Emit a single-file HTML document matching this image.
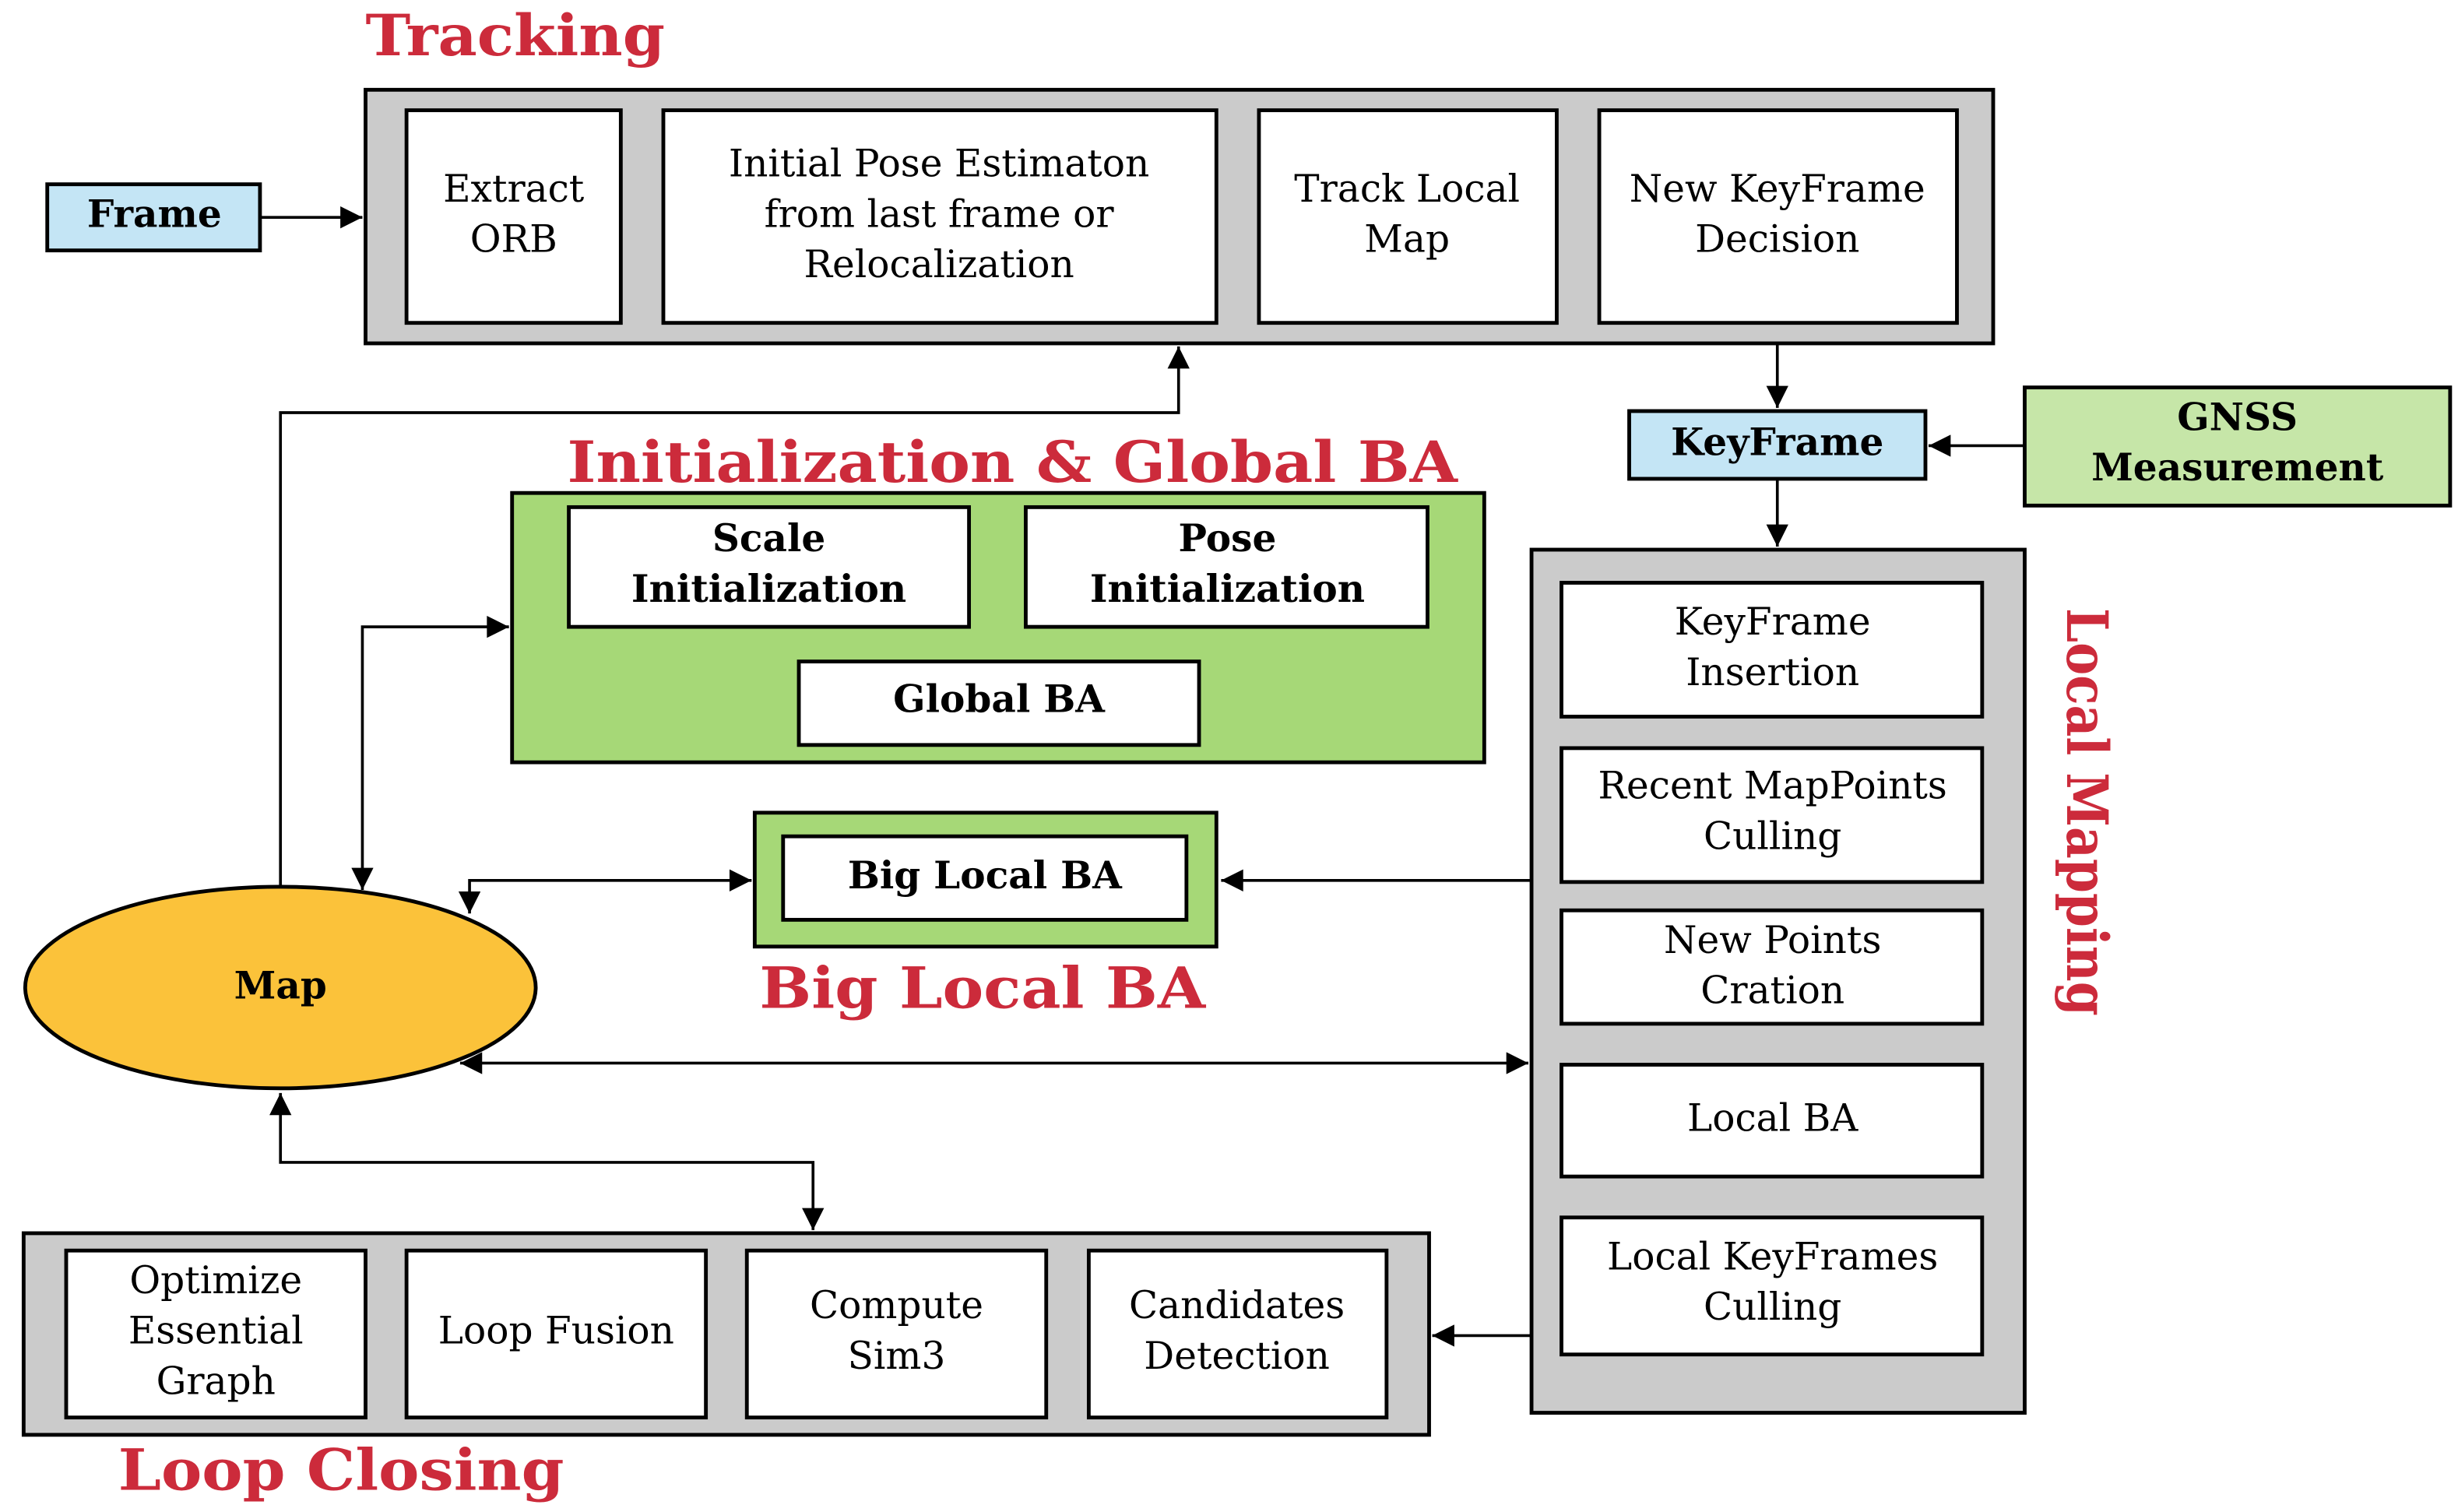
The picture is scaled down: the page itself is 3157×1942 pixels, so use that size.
<!DOCTYPE html>
<html><head><meta charset="utf-8"><style>html,body{margin:0;padding:0;background:#fff}svg{display:block}</style></head>
<body>
<svg width="3157" height="1942" viewBox="0 0 1560 960" preserveAspectRatio="none" xmlns="http://www.w3.org/2000/svg" font-family="'DejaVu Serif','Liberation Serif',serif">
<defs>
<marker id="a" viewBox="0 0 10 10" refX="10" refY="5" markerWidth="22" markerHeight="14" markerUnits="userSpaceOnUse" orient="auto-start-reverse"><path d="M0,0 L10,5 L0,10 z" fill="#000"/></marker>
</defs>
<g fill="none" stroke="#000" stroke-width="1.8">
<line x1="165" y1="138" x2="230" y2="138" marker-end="url(#a)"/>
<polyline points="178,563 178,262 748,262 748,220" marker-end="url(#a)"/>
<polyline points="230,565 230,398 323,398" marker-start="url(#a)" marker-end="url(#a)"/>
<polyline points="298,580 298,559 477,559" marker-start="url(#a)" marker-end="url(#a)"/>
<line x1="972" y1="559" x2="775" y2="559" marker-end="url(#a)"/>
<line x1="292" y1="675" x2="970" y2="675" marker-start="url(#a)" marker-end="url(#a)"/>
<polyline points="178,694 178,738 516,738 516,781" marker-start="url(#a)" marker-end="url(#a)"/>
<line x1="972" y1="848" x2="909" y2="848" marker-end="url(#a)"/>
<line x1="1128" y1="205" x2="1128" y2="259" marker-end="url(#a)"/>
<line x1="1285" y1="283" x2="1224" y2="283" marker-end="url(#a)"/>
<line x1="1128" y1="304" x2="1128" y2="347" marker-end="url(#a)"/>
</g>
<g stroke="#000" stroke-width="2.4">
<rect x="232" y="57" width="1033" height="161" fill="#cbcbcb"/>
<rect x="258" y="70" width="136" height="135" fill="#fff"/>
<rect x="421" y="70" width="351" height="135" fill="#fff"/>
<rect x="799" y="70" width="189" height="135" fill="#fff"/>
<rect x="1015" y="70" width="227" height="135" fill="#fff"/>
<rect x="30" y="117" width="135" height="42" fill="#c4e5f5"/>
<rect x="1034" y="261" width="188" height="43" fill="#c4e5f5"/>
<rect x="1285" y="246" width="270" height="75" fill="#c6e6a8"/>
<rect x="972" y="349" width="313" height="548" fill="#cbcbcb"/>
<rect x="991" y="370" width="267" height="85" fill="#fff"/>
<rect x="991" y="475" width="267" height="85" fill="#fff"/>
<rect x="991" y="578" width="267" height="72" fill="#fff"/>
<rect x="991" y="676" width="267" height="71" fill="#fff"/>
<rect x="991" y="773" width="267" height="87" fill="#fff"/>
<rect x="325" y="313" width="617" height="171" fill="#a6d877"/>
<rect x="361" y="322" width="254" height="76" fill="#fff"/>
<rect x="651" y="322" width="255" height="76" fill="#fff"/>
<rect x="507" y="420" width="254" height="53" fill="#fff"/>
<rect x="479" y="516" width="293" height="85" fill="#a6d877"/>
<rect x="497" y="531" width="256" height="53" fill="#fff"/>
<ellipse cx="178" cy="627" rx="162" ry="64" fill="#fbc23a"/>
<rect x="15" y="783" width="892" height="128" fill="#cbcbcb"/>
<rect x="42" y="794" width="190" height="106" fill="#fff"/>
<rect x="258" y="794" width="190" height="106" fill="#fff"/>
<rect x="474" y="794" width="190" height="106" fill="#fff"/>
<rect x="691" y="794" width="189" height="106" fill="#fff"/>
</g>
<g fill="#cc2b3b" font-weight="bold" font-size="36">
<text x="232" y="35" textLength="190" lengthAdjust="spacingAndGlyphs">Tracking</text>
<text x="360" y="306" textLength="565" lengthAdjust="spacingAndGlyphs">Initialization &amp; Global BA</text>
<text x="482" y="640" textLength="283" lengthAdjust="spacingAndGlyphs">Big Local BA</text>
<text x="75" y="946" textLength="283" lengthAdjust="spacingAndGlyphs">Loop Closing</text>
<text transform="translate(1312,386) rotate(90)" textLength="259" lengthAdjust="spacingAndGlyphs">Local Mapping</text>
</g>
<g font-size="24" text-anchor="middle" fill="#000">
<text x="326" y="128">Extract</text><text x="326" y="160">ORB</text>
<text x="596" y="112">Initial Pose Estimaton</text><text x="596" y="144">from last frame or</text><text x="596" y="176">Relocalization</text>
<text x="893" y="128">Track Local</text><text x="893" y="160">Map</text>
<text x="1128" y="128">New KeyFrame</text><text x="1128" y="160">Decision</text>
<text x="1125" y="403">KeyFrame</text><text x="1125" y="435">Insertion</text>
<text x="1125" y="507">Recent MapPoints</text><text x="1125" y="539">Culling</text>
<text x="1125" y="605">New Points</text><text x="1125" y="637">Cration</text>
<text x="1125" y="718">Local BA</text>
<text x="1125" y="806">Local KeyFrames</text><text x="1125" y="838">Culling</text>
<text x="137" y="821">Optimize</text><text x="137" y="853">Essential</text><text x="137" y="885">Graph</text>
<text x="353" y="853">Loop Fusion</text>
<text x="569" y="837">Compute</text><text x="569" y="869">Sim3</text>
<text x="785" y="837">Candidates</text><text x="785" y="869">Detection</text>
</g>
<g font-size="24" font-weight="bold" text-anchor="middle" fill="#000">
<text x="98" y="144">Frame</text>
<text x="1128" y="289">KeyFrame</text>
<text x="1420" y="273">GNSS</text><text x="1420" y="305">Measurement</text>
<text x="488" y="350">Scale</text><text x="488" y="382">Initialization</text>
<text x="779" y="350">Pose</text><text x="779" y="382">Initialization</text>
<text x="634" y="452">Global BA</text>
<text x="625" y="564">Big Local BA</text>
<text x="178" y="634">Map</text>
</g>
</svg>
</body></html>
